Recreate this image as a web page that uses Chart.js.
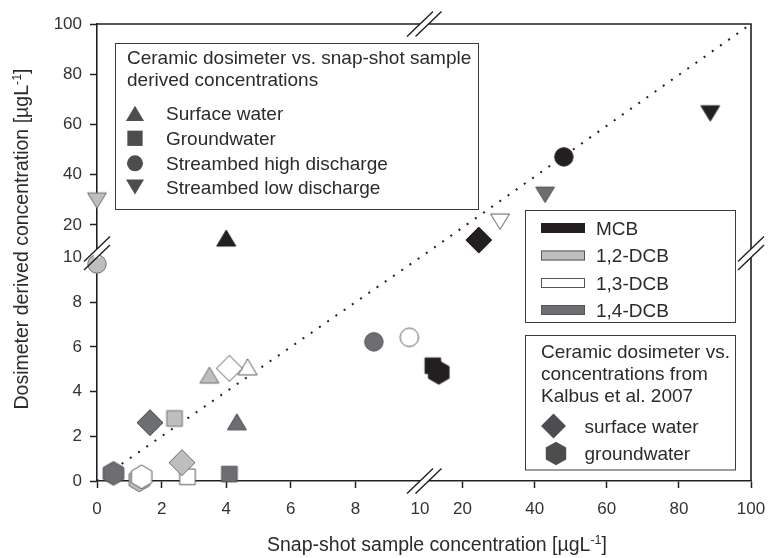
<!DOCTYPE html>
<html><head><meta charset="utf-8">
<script src="https://cdn.jsdelivr.net/npm/chart.js@4.4.0/dist/chart.umd.min.js"></script>
<style>html,body{margin:0;padding:0;background:#fff}#wrap{width:769px;height:558px;position:relative}</style>
</head><body><div id="wrap"><canvas id="c" width="769" height="558"></canvas></div>
<script>
// ---------- data ----------
const compounds = ['MCB', '1,2-DCB', '1,3-DCB', '1,4-DCB'];
// snap-shot sample concentration (x) and dosimeter derived concentration (y), per compound
const surfaceSnap = [4.0, 3.48, 4.66, 4.33];
const surfaceDosi = [14.8, 4.74, 5.11, 2.65];
const groundSnap = [11.75, 2.4, 2.8, 4.1];
const groundDosi = [5.16, 2.8, 0.19, 0.31];
const highSnap = [48.1, 0, 9.67, 8.57];
const highDosi = [47.1, 9.71, 6.43, 6.23];
const lowSnap = [88.7, 0, 30.4, 42.9];
const lowDosi = [64.4, 29.7, 21.3, 32.0];
const kalbusSurfaceSnap = [24.5, 2.63, 4.1, 1.64];
const kalbusSurfaceDosi = [14.0, 0.82, 5.04, 2.61];
const kalbusGroundSnap = [13.4, 1.31, 1.38, 0.51];
const kalbusGroundDosi = [4.86, 0.05, 0.19, 0.34];
const oneToOne = [0, 10, 100];
const xTickValues = [0, 2, 4, 6, 8, 10, 20, 40, 60, 80, 100];
const yTickValues = [0, 2, 4, 6, 8, 10, 20, 40, 60, 80, 100];
const legendTypes = ['Surface water', 'Groundwater', 'Streambed high discharge', 'Streambed low discharge'];
const kalbusTypes = ['surface water', 'groundwater'];

// ---------- broken-axis transform (scale constants) ----------
const BREAK = 10;
const X_GAP = 0.2, X_UP = 0.11163;
const Y_GAP = 0.336, Y_UP = 0.11242;
function tx(v) { return v <= BREAK ? v : BREAK + X_GAP + (v - BREAK) * X_UP; }
function ty(v) { return v <= BREAK ? v : BREAK + Y_GAP + (v - BREAK) * Y_UP; }

// ---------- styles ----------
const FONT = "'Liberation Sans', Arial, Helvetica, sans-serif";
const INK = '#231f20';
const compoundFill = ['#231f20', '#bcbec0', '#ffffff', '#6d6e71'];
const compoundStroke = ['#231f20', '#6d6e71', '#58595b', '#4d4d4f'];
const legendSymbolFill = '#4d4d4f';

function pathShape(g, shape, cx, cy, k) {
  g.beginPath();
  if (shape === 'tri') {
    g.moveTo(cx, cy - 8 * k); g.lineTo(cx + 9.5 * k, cy + 8 * k); g.lineTo(cx - 9.5 * k, cy + 8 * k); g.closePath();
  } else if (shape === 'tridown') {
    g.moveTo(cx, cy + 7.7 * k); g.lineTo(cx + 9.4 * k, cy - 7.7 * k); g.lineTo(cx - 9.4 * k, cy - 7.7 * k); g.closePath();
  } else if (shape === 'square') {
    g.rect(cx - 7.8 * k, cy - 7.8 * k, 15.6 * k, 15.6 * k);
  } else if (shape === 'circle') {
    g.arc(cx, cy, 9.2 * k, 0, Math.PI * 2);
  } else if (shape === 'diamond') {
    g.moveTo(cx, cy - 13 * k); g.lineTo(cx + 13 * k, cy); g.lineTo(cx, cy + 13 * k); g.lineTo(cx - 13 * k, cy); g.closePath();
  } else if (shape === 'hex') {
    for (let i = 0; i < 6; i++) {
      const a = -Math.PI / 2 + i * Math.PI / 3;
      const px = cx + 11.8 * k * Math.cos(a), py = cy + 11.8 * k * Math.sin(a);
      if (i === 0) g.moveTo(px, py); else g.lineTo(px, py);
    }
    g.closePath();
  }
}
function markerCanvas(shape, fill, stroke) {
  const s = 32, c = document.createElement('canvas');
  c.width = s; c.height = s;
  const g = c.getContext('2d');
  pathShape(g, shape, s / 2, s / 2, 1);
  g.fillStyle = fill; g.fill();
  g.lineWidth = 1; g.strokeStyle = stroke; g.stroke();
  return c;
}

const groups = [
  { shape: 'tri', xs: surfaceSnap, ys: surfaceDosi },
  { shape: 'square', xs: groundSnap, ys: groundDosi },
  { shape: 'circle', xs: highSnap, ys: highDosi },
  { shape: 'tridown', xs: lowSnap, ys: lowDosi },
  { shape: 'diamond', xs: kalbusSurfaceSnap, ys: kalbusSurfaceDosi },
  { shape: 'hex', xs: kalbusGroundSnap, ys: kalbusGroundDosi }
];

const datasets = [{
  label: '1:1',
  data: oneToOne.map(v => ({ x: tx(v), y: ty(v) })),
  showLine: true, borderColor: INK, borderWidth: 2, borderDash: [2, 8],
  pointRadius: 0, fill: false, order: 100
}];
groups.forEach((gr, gi) => {
  datasets.push({
    label: gr.shape,
    data: compounds.map((c, i) => ({ x: tx(gr.xs[i]), y: ty(gr.ys[i]) })),
    pointStyle: compounds.map((c, i) => markerCanvas(gr.shape, compoundFill[i], compoundStroke[i])),
    pointRadius: 12,
    showLine: false,
    clip: false,
    order: -gi
  });
});

// ---------- decorations: frame, breaks, legends, axis titles ----------
function drawSlash(g, cx, cy) {
  g.beginPath(); g.moveTo(cx - 13, cy + 12.5); g.lineTo(cx + 13, cy - 12.5); g.stroke();
}
const decor = {
  id: 'decor',
  afterDraw(chart) {
    const g = chart.ctx, a = chart.chartArea, xs = chart.scales.x, ys = chart.scales.y;
    g.save();
    g.strokeStyle = INK; g.lineWidth = 1.6;
    // top and right frame
    g.beginPath(); g.moveTo(a.left, a.top); g.lineTo(a.right, a.top); g.lineTo(a.right, a.bottom); g.stroke();
    // breaks
    const bx1 = xs.getPixelForValue(BREAK), bx2 = bx1 + 8.5;
    const by1 = ys.getPixelForValue(BREAK), by2 = by1 - 8.5;
    g.fillStyle = '#fff';
    g.fillRect(bx1, a.bottom - 3, bx2 - bx1, 6);
    g.fillRect(bx1, a.top - 3, bx2 - bx1, 6);
    g.fillRect(a.left - 3, by2, 6, by1 - by2);
    g.fillRect(a.right - 3, by2, 6, by1 - by2);
    g.lineWidth = 1.4;
    [bx1, bx2].forEach(x => { drawSlash(g, x, a.bottom); drawSlash(g, x, a.top); });
    [by1, by2].forEach(y => { drawSlash(g, a.left, y); drawSlash(g, a.right, y); });

    // legend 1
    g.lineWidth = 1; g.strokeStyle = '#3a3a3a';
    g.fillStyle = '#fff'; g.fillRect(115.5, 43.5, 363, 166);
    g.strokeRect(115.5, 43.5, 363, 166);
    g.fillStyle = '#2b2b2b'; g.font = '19px ' + FONT; g.textBaseline = 'alphabetic'; g.textAlign = 'left';
    g.fillText('Ceramic dosimeter vs. snap-shot sample', 127, 63.5);
    g.fillText('derived concentrations', 127, 85.5);
    const l1shapes = ['tri', 'square', 'circle', 'tridown'], l1k = [0.95, 0.98, 0.87, 0.96];
    const l1y = [113.3, 138.3, 163.3, 187];
    l1shapes.forEach((s, i) => {
      pathShape(g, s, 135, l1y[i], l1k[i]); g.fillStyle = legendSymbolFill; g.fill();
      g.fillStyle = '#2b2b2b'; g.fillText(legendTypes[i], 166, l1y[i] + 6.8);
    });

    // legend 2
    g.fillStyle = '#fff'; g.fillRect(525.5, 210.5, 210, 112);
    g.strokeStyle = '#3a3a3a'; g.strokeRect(525.5, 210.5, 210, 112);
    const l2y = [228, 255.5, 283, 310];
    compounds.forEach((c, i) => {
      g.fillStyle = compoundFill[i]; g.fillRect(541, l2y[i] - 5, 44, 10);
      g.strokeStyle = i === 0 ? INK : '#555'; g.strokeRect(541.5, l2y[i] - 4.5, 43, 9);
      g.fillStyle = '#2b2b2b'; g.fillText(c, 596, l2y[i] + 6.8);
    });

    // legend 3
    g.fillStyle = '#fff'; g.fillRect(525.5, 335.5, 210, 134.5);
    g.strokeStyle = '#3a3a3a'; g.strokeRect(525.5, 335.5, 210, 134.5);
    g.fillStyle = '#2b2b2b';
    g.fillText('Ceramic dosimeter vs.', 541, 358);
    g.fillText('concentrations from', 541, 380);
    g.fillText('Kalbus et al. 2007', 541, 402);
    pathShape(g, 'diamond', 553.5, 426, 0.96); g.fillStyle = legendSymbolFill; g.fill();
    pathShape(g, 'hex', 556, 453.5, 1.0); g.fillStyle = legendSymbolFill; g.fill();
    g.fillStyle = '#2b2b2b';
    g.fillText(kalbusTypes[0], 584.5, 426 + 6.8);
    g.fillText(kalbusTypes[1], 584.5, 453.5 + 6.8);

    // axis titles with superscript
    function titleParts(main) {
      return [[main, 19.5, 0], ['-1', 12.5, -7.5], [']', 19.5, 0]];
    }
    function drawTitle(parts, cx, baseY) {
      let total = 0;
      parts.forEach(p => { g.font = p[1] + 'px ' + FONT; total += g.measureText(p[0]).width; });
      let x = cx - total / 2;
      parts.forEach(p => {
        g.font = p[1] + 'px ' + FONT;
        g.fillText(p[0], x, baseY + p[2]);
        x += g.measureText(p[0]).width;
      });
    }
    g.fillStyle = '#2b2b2b'; g.textAlign = 'left';
    drawTitle(titleParts('Snap-shot sample concentration [\u00b5gL'), 437, 551);
    g.save();
    g.translate(28, 239); g.rotate(-Math.PI / 2);
    drawTitle(titleParts('Dosimeter derived concentration [\u00b5gL'), 0, 0);
    g.restore();
    g.restore();
  }
};

function tickColorFn(values) {
  return ctx => (values[ctx.index] === BREAK ? 'rgba(0,0,0,0)' : INK);
}

new Chart(document.getElementById('c'), {
  type: 'scatter',
  data: { datasets },
  options: {
    responsive: false, animation: false, devicePixelRatio: 1,
    layout: { padding: { left: 0, right: 18, top: 24, bottom: 0 } },
    plugins: { legend: { display: false }, tooltip: { enabled: false } },
    scales: {
      x: {
        type: 'linear', min: 0, max: tx(100),
        afterBuildTicks: s => { s.ticks = xTickValues.map(v => ({ value: tx(v) })); },
        afterFit: s => { s.height = 77; s.paddingLeft = 0; s.paddingRight = 0; },
        ticks: { callback: (v, i) => String(xTickValues[i]), font: { family: FONT, size: 17 }, color: '#333', padding: 11, maxRotation: 0, autoSkip: false },
        grid: { drawOnChartArea: false, tickLength: 7, tickWidth: 1.5, tickColor: tickColorFn(xTickValues) },
        border: { color: INK, width: 1.6 }
      },
      y: {
        type: 'linear', min: 0, max: ty(100),
        afterBuildTicks: s => { s.ticks = yTickValues.map(v => ({ value: ty(v) })); },
        afterFit: s => { s.width = 97; s.paddingTop = 0; s.paddingBottom = 0; },
        ticks: { callback: (v, i) => String(yTickValues[i]), font: { family: FONT, size: 17 }, color: '#333', padding: 8, autoSkip: false },
        grid: { drawOnChartArea: false, tickLength: 7, tickWidth: 1.5, tickColor: tickColorFn(yTickValues) },
        border: { color: INK, width: 1.6 }
      }
    }
  },
  plugins: [decor]
});
</script></body></html>
